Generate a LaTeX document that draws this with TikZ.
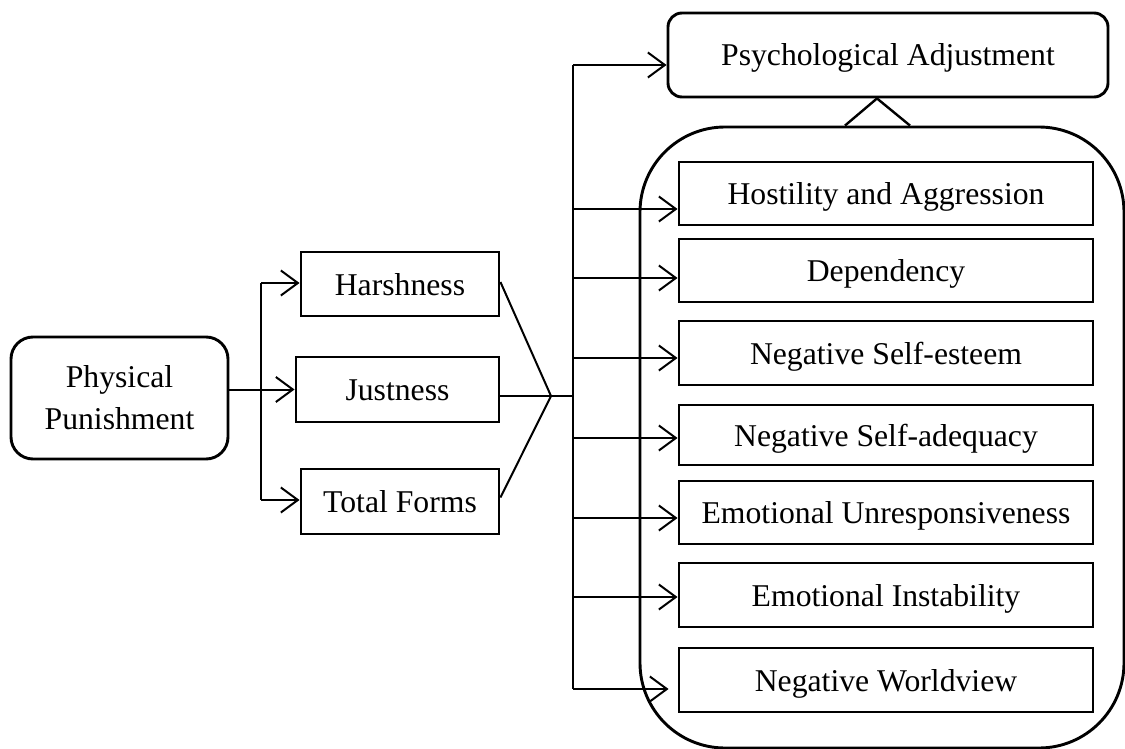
\documentclass[tikz,border=0pt]{standalone}
\usepackage{fontspec}
\setmainfont{Liberation Serif}
\usetikzlibrary{arrows.meta}
\begin{document}
\begin{tikzpicture}[x=1pt,y=-1pt,
  base/.style={draw, line width=2.9pt, inner sep=0pt, font=\fontsize{31.7}{42}\selectfont, align=center},
  box/.style={base, text height=22pt, text depth=0pt},
  rbox/.style={box, rounded corners=14pt},
  conn/.style={line width=2pt},
  arr/.style={conn, -{Straight Barb[length=17pt,width=25pt,line width=2pt]}},
]
\useasboundingbox (0,0) rectangle (1125,749);

% left part
\node[base, rounded corners=22pt, minimum width=217pt, minimum height=122pt] (phys) at (119.5,398) {Physical\\Punishment};
\node[box, minimum width=198pt, minimum height=64pt] (harsh) at (400,284) {Harshness};
\node[box, minimum width=203pt, minimum height=65pt] (just) at (397.5,389.5) {Justness};
\node[box, minimum width=198pt, minimum height=65pt] (tf) at (400,501.5) {Total Forms};

% right part
\node[rbox, minimum width=440pt, minimum height=84pt] (psych) at (888,55) {Psychological Adjustment};
\node[draw, line width=2.9pt, rounded corners=85pt, minimum width=484pt, minimum height=621pt] (group) at (882,437.5) {};
\node[box, minimum width=414pt, minimum height=63pt] (host) at (886,193.5) {Hostility and Aggression};
\node[box, minimum width=414pt, minimum height=63pt] (dep) at (886,270.5) {Dependency};
\node[box, minimum width=414pt, minimum height=64pt] (se) at (886,353) {Negative Self-esteem};
\node[box, minimum width=414pt, minimum height=60pt] (sa) at (886,435) {Negative Self-adequacy};
\node[box, minimum width=414pt, minimum height=63pt] (eu) at (886,512.5) {Emotional Unresponsiveness};
\node[box, minimum width=414pt, minimum height=64pt] (ei) at (886,595) {Emotional Instability};
\node[box, minimum width=414pt, minimum height=64pt] (nw) at (886,680) {Negative Worldview};

% triangle
\draw[line width=2.4pt, line join=miter] ([xshift=-37pt]group.north) -- ([xshift=-11pt]psych.south) -- ([xshift=28pt]group.north);

% left connectors
\coordinate (bh) at (261,283);
\coordinate (bt) at (261,500);
\draw[arr] (phys.east |- just.west) -- (just.west);
\draw[conn] (bh) -- (bt);
\draw[arr] (bh) -- (bh -| harsh.west);
\draw[arr] (bt) -- (bt -| tf.west);

% converging lines
\coordinate (jn) at (551,396);
\coordinate (vtop) at (573,65);
\coordinate (vbot) at (573,689);
\draw[conn] ([yshift=2pt]harsh.east) -- (jn);
\draw[conn] ([yshift=4pt]tf.east) -- (jn);
\draw[conn] (just.east |- jn) -- (jn) -- (jn -| vtop);
\draw[conn] (vtop) -- (vbot);

% right arrows
\draw[arr] (vtop) -- (vtop -| psych.west);
\coordinate (a1) at (573,209);
\coordinate (a2) at (573,278);
\coordinate (a3) at (573,358);
\coordinate (a4) at (573,438);
\coordinate (a5) at (573,518);
\coordinate (a6) at (573,597);
\draw[arr] (a1) -- (a1 -| host.west);
\draw[arr] (a2) -- (a2 -| dep.west);
\draw[arr] (a3) -- (a3 -| se.west);
\draw[arr] (a4) -- (a4 -| sa.west);
\draw[arr] (a5) -- (a5 -| eu.west);
\draw[arr] (a6) -- (a6 -| ei.west);
\draw[arr] (vbot) -- ([xshift=-9pt]vbot -| nw.west);
\end{tikzpicture}
\end{document}
